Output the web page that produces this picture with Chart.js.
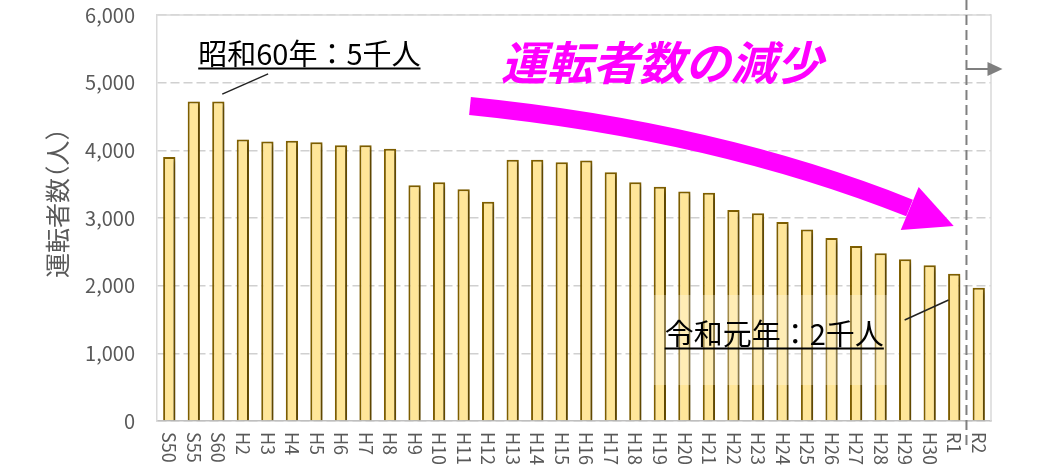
<!DOCTYPE html>
<html lang="ja">
<head>
<meta charset="utf-8">
<script src="https://cdn.jsdelivr.net/npm/chart.js@4.4.1/dist/chart.umd.min.js"></script>
<style>
  html, body { margin: 0; padding: 0; background: #fff; }
  #wrap { width: 1045px; height: 470px; }
</style>
</head>
<body>
<div id="wrap"><canvas id="chart" width="1045" height="470"></canvas></div>
<script>
// Years: Showa 50, 55, 60, then Heisei 2..30, Reiwa 1, 2
const categories = ["S50", "S55", "S60", "H2", "H3", "H4", "H5", "H6", "H7", "H8", "H9", "H10",
  "H11", "H12", "H13", "H14", "H15", "H16", "H17", "H18", "H19", "H20", "H21", "H22", "H23",
  "H24", "H25", "H26", "H27", "H28", "H29", "H30", "R1", "R2"];

// Number of drivers (people)
const drivers = [3900, 4720, 4720, 4160, 4130, 4140, 4120, 4075, 4075, 4025, 3485, 3530,
  3425, 3240, 3860, 3860, 3825, 3850, 3675, 3530, 3460, 3390, 3375, 3120, 3070,
  2940, 2830, 2705, 2585, 2480, 2390, 2300, 2175, 1970];

const yMin = 0;
const yMax = 6000;
const yStep = 1000;

const FONT = "'Noto Sans CJK JP', 'Noto Sans', sans-serif";
const GRAY = "#595959";

// Call-outs, anchored in data units (category index, value)
const notes = [
  { text: "昭和60年：5千人", at: [1.18, 5260], from: [2.16, 4830], to: [4.03, 5130] },
  { text: "令和元年：2千人", at: [20.2, 1123], from: [29.98, 1493], to: [31.77, 1788], veil: true }
];
const headline = { text: "運転者数の減少", at: [20.08, 5305] };
const trend = {
  start: [12.26, 4655], ctrl: [22.32, 4286], end: [30.18, 3148],
  tip: [31.98, 2882], wingA: [30.55, 3458], wingB: [29.82, 2823]
};
const divider = { x: 32.5, arrowY: 5202, arrowTo: 33.97 };


// Draws every piece the library has no option for: rotated x labels,
// axis title, call-outs, the big trend arrow and the divider line
const overlay = {
  id: "overlay",
  beforeDatasetsDraw(chart) {
    const ctx = chart.ctx;
    ctx.save();
    ctx.shadowColor = "rgba(0,0,0,0.32)";
    ctx.shadowBlur = 5;
    ctx.shadowOffsetX = 3;
    ctx.shadowOffsetY = 2;
  },
  afterDatasetsDraw(chart) {
    chart.ctx.restore();
  },
  afterDraw(chart) {
    const ctx = chart.ctx;
    const xs = chart.scales.x;
    const ys = chart.scales.y;
    const area = chart.chartArea;
    const px = (i) => xs.getPixelForValue(i);
    const py = (v) => ys.getPixelForValue(v);

    ctx.save();

    // plot frame
    ctx.strokeStyle = "#D9D9D9";
    ctx.lineWidth = 1.5;
    ctx.beginPath();
    ctx.moveTo(area.left, area.top);
    ctx.lineTo(area.right, area.top);
    ctx.lineTo(area.right, area.bottom);
    ctx.stroke();

    // x labels, turned clockwise so they read top to bottom
    ctx.fillStyle = GRAY;
    ctx.font = "18px " + FONT;
    ctx.textAlign = "left";
    ctx.textBaseline = "middle";
    categories.forEach((label, i) => {
      ctx.save();
      ctx.translate(px(i), area.bottom + 11);
      ctx.rotate(Math.PI / 2);
      ctx.fillText(label, 0, 0);
      ctx.restore();
    });

    // y axis title, parentheses kept narrow like the original
    ctx.save();
    ctx.translate(area.left - 100, (area.top + area.bottom) / 2 - 15);
    ctx.rotate(-Math.PI / 2);
    ctx.font = "25px " + FONT;
    ctx.fillStyle = GRAY;
    ctx.textBaseline = "middle";
    ctx.textAlign = "left";
    const title = "運転者数（人）";
    let total = 0;
    const widths = [...title].map((ch) => {
      const w = ctx.measureText(ch).width;
      const adv = (ch === "（" || ch === "）") ? w * 0.5 : w;
      total += adv;
      return { ch, w, adv };
    });
    let cur = -total / 2;
    widths.forEach(({ ch, w, adv }) => {
      ctx.fillText(ch, ch === "（" ? cur - w * 0.5 : cur, 0);
      cur += adv;
    });
    ctx.restore();

    // call-outs
    ctx.font = "29px " + FONT;
    ctx.textAlign = "left";
    ctx.textBaseline = "alphabetic";
    notes.forEach((n) => {
      const x = px(n.at[0]);
      const y = py(n.at[1]);
      const w = ctx.measureText(n.text).width;
      if (n.veil) {
        ctx.fillStyle = "rgba(255,255,255,0.28)";
        ctx.fillRect(x - 12, y - 50, w + 24, 90);
      }
      ctx.fillStyle = "#000";
      ctx.fillText(n.text, x, y);
      ctx.strokeStyle = "#000";
      ctx.lineWidth = 2;
      ctx.beginPath();
      ctx.moveTo(x, y + 3.5);
      ctx.lineTo(x + w, y + 3.5);
      ctx.stroke();
      ctx.lineWidth = 1.5;
      ctx.strokeStyle = "#222";
      ctx.beginPath();
      ctx.moveTo(px(n.from[0]), py(n.from[1]));
      ctx.lineTo(px(n.to[0]), py(n.to[1]));
      ctx.stroke();
    });

    // magenta trend arrow
    ctx.strokeStyle = "#FF00FF";
    ctx.fillStyle = "#FF00FF";
    ctx.lineWidth = 18;
    ctx.lineCap = "butt";
    ctx.beginPath();
    ctx.moveTo(px(trend.start[0]), py(trend.start[1]));
    ctx.quadraticCurveTo(px(trend.ctrl[0]), py(trend.ctrl[1]), px(trend.end[0]), py(trend.end[1]));
    ctx.stroke();
    ctx.beginPath();
    ctx.moveTo(px(trend.tip[0]), py(trend.tip[1]));
    ctx.lineTo(px(trend.wingA[0]), py(trend.wingA[1]));
    ctx.lineTo(px(trend.wingB[0]), py(trend.wingB[1]));
    ctx.closePath();
    ctx.fill();

    // headline
    ctx.font = "italic bold 46px " + FONT;
    ctx.textAlign = "center";
    ctx.textBaseline = "middle";
    ctx.fillText(headline.text, px(headline.at[0]), py(headline.at[1]));

    // dashed divider between R1 and R2, with its little arrow
    const dx = px(divider.x);
    ctx.strokeStyle = "#7F7F7F";
    ctx.lineWidth = 2;
    ctx.setLineDash([10, 5]);
    ctx.beginPath();
    ctx.moveTo(dx, 0);
    ctx.lineTo(dx, area.bottom + 27);
    ctx.stroke();
    ctx.setLineDash([]);
    const ay = py(divider.arrowY);
    const ax = px(divider.arrowTo);
    ctx.beginPath();
    ctx.moveTo(dx, ay);
    ctx.lineTo(ax - 12, ay);
    ctx.stroke();
    ctx.fillStyle = "#7F7F7F";
    ctx.beginPath();
    ctx.moveTo(ax, ay);
    ctx.lineTo(ax - 15, ay - 7);
    ctx.lineTo(ax - 15, ay + 7);
    ctx.closePath();
    ctx.fill();

    ctx.restore();
  }
};

const data = {
  labels: categories,
  datasets: [{
    label: "運転者数",
    data: drivers,
    backgroundColor: "#FFE699",
    borderColor: "#806000",
    borderWidth: 2,
    borderSkipped: "bottom",
    barPercentage: 0.5,
    categoryPercentage: 1.0
  }]
};

const config = {
  type: "bar",
  data: data,
  plugins: [overlay],
  options: {
    responsive: false,
    animation: false,
    layout: {
      padding: { top: 15, right: 54, bottom: 0, left: 0 }
    },
    plugins: {
      legend: { display: false },
      tooltip: { enabled: false }
    },
    scales: {
      x: {
        grid: { display: false },
        border: { display: true, color: "#BFBFBF", width: 1.5 },
        ticks: { display: false },
        afterFit: (scale) => { scale.height = 49; }
      },
      y: {
        min: yMin,
        max: yMax,
        grid: {
          color: "#D0D0D0",
          lineWidth: 1.5,
          drawTicks: false
        },
        border: { display: true, color: "#D9D9D9", width: 1.5, dash: [9, 4] },
        ticks: {
          stepSize: yStep,
          padding: 22,
          color: GRAY,
          font: { family: FONT, size: 20 },
          callback: (v) => v.toLocaleString("en-US")
        },
        afterFit: (scale) => {
          scale.width = 157;
          scale.paddingTop = 0;
          scale.paddingBottom = 0;
        }
      }
    }
  }
};

new Chart(document.getElementById("chart"), config);
</script>
</body>
</html>
